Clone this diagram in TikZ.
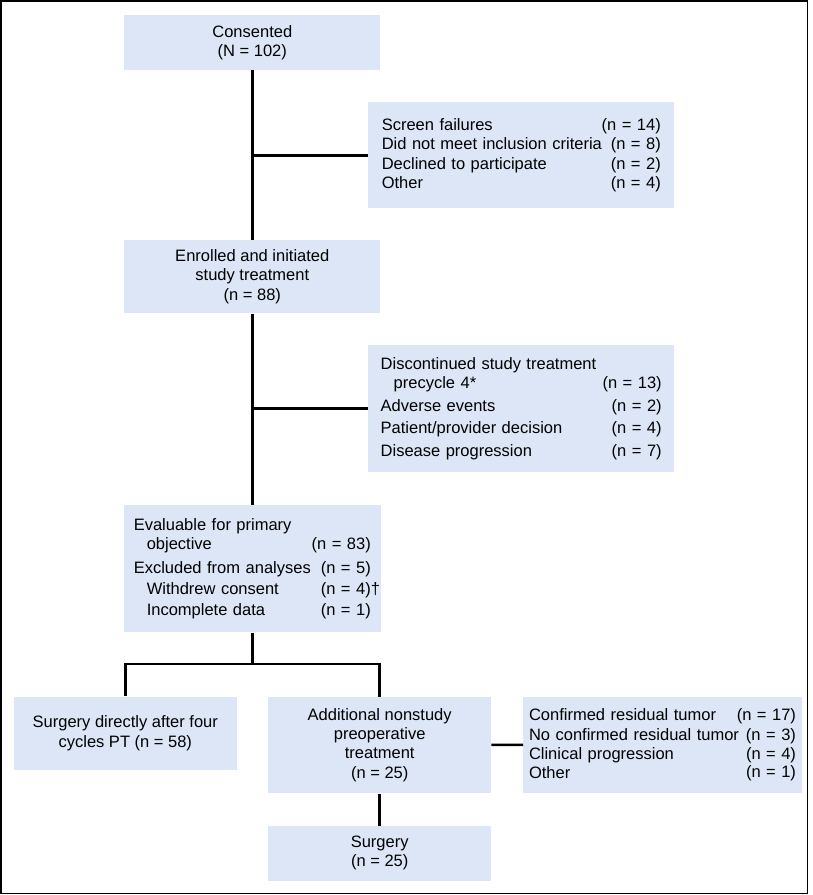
\documentclass[tikz,border=0pt]{standalone}
\usepackage{fontspec}
\setmainfont{Liberation Sans}
\definecolor{boxfill}{RGB}{220,230,246}
\newcommand{\boxfont}{\fontsize{16.5pt}{19.2pt}\selectfont}
% one line of a list box: label left, count right
\newcommand{\lrow}[2]{\makebox[\hsize][l]{#1\hfill#2}}
\newcommand{\ind}{\hspace*{13pt}}
\tikzset{
  box/.style={fill=boxfill, inner sep=0pt, align=center, font=\boxfont},
  listbox/.style={box, align=left},
  conn/.style={line width=2.5pt}
}
\begin{document}
\begin{tikzpicture}[x=1pt,y=-1pt]
  \useasboundingbox (0,0) rectangle (812,895);
  \draw[line width=1.5pt] (1,1) rectangle (807.5,893.5);

  % main column
  \node[box, minimum width=256, minimum height=55] (consent) at (252.3,42.5)
    {Consented\\(N = 102)};
  \node[box, minimum width=256, minimum height=73.3] (enrolled) at (252.3,276.7)
    {Enrolled and initiated\\study treatment\\(n = 88)};
  \node[listbox, minimum width=257, minimum height=127.3, text width=237] (evaluable) at (252.3,568.7)
    {\lrow{Evaluable for primary}{}\\
     \lrow{\ind objective}{(n = 83)}\\[5pt]
     \lrow{Excluded from analyses}{(n = 5)}\\[2pt]
     \lrow{\ind Withdrew consent}{(n = 4)\rlap{\textdagger}}\\[2pt]
     \lrow{\ind Incomplete data}{(n = 1)}};

  % side boxes
  \node[listbox, minimum width=306, minimum height=106, text width=279] (screen) at (521.3,155.3)
    {\lrow{Screen failures}{(n = 14)}\\
     \lrow{Did not meet inclusion criteria}{(n = 8)}\\
     \lrow{Declined to participate}{(n = 2)}\\
     \lrow{Other}{(n = 4)}};
  \node[listbox, minimum width=305.7, minimum height=127.3, text width=281] (disc) at (521.2,408.7)
    {\lrow{Discontinued study treatment}{}\\
     \lrow{\ind precycle 4*}{(n = 13)}\\[3.5pt]
     \lrow{Adverse events}{(n = 2)}\\[3.5pt]
     \lrow{Patient/provider decision}{(n = 4)}\\[3.5pt]
     \lrow{Disease progression}{(n = 7)}};

  % bottom row
  \node[box, minimum width=222.7, minimum height=73.3] (direct) at (125.3,733.3)
    {Surgery directly after four\\cycles PT (n = 58)};
  \node[box, minimum width=222.7, minimum height=96.6] (additional) at (379.7,745)
    {Additional nonstudy\\preoperative\\treatment\\(n = 25)};
  \node[listbox, minimum width=278.4, minimum height=96, text width=267] (confirmed) at (662.5,744.7)
    {\lrow{Confirmed residual tumor}{(n = 17)}\\
     \lrow{No confirmed residual tumor}{(n = 3)}\\
     \lrow{Clinical progression}{(n = 4)}\\
     \lrow{Other}{\raisebox{1.5pt}{(n = 1)}}};
  \node[box, minimum width=222.7, minimum height=55] (surgery) at (379.7,853.2)
    {Surgery\\(n = 25)};

  \coordinate (split) at (252.3,664);

  \draw[conn] (consent) -- (enrolled);
  \draw[conn] (enrolled) -- (evaluable);
  \draw[conn] (screen.west) -- (screen.west -| consent.south);
  \draw[conn] (disc.west) -- (disc.west -| enrolled.south);
  \draw[conn] (evaluable.south) -- (split);
  \draw[conn] (direct.north) |- (split) -| (additional.north);
  \draw[conn] (additional) -- (confirmed);
  \draw[conn] (additional) -- (surgery);
\end{tikzpicture}
\end{document}
